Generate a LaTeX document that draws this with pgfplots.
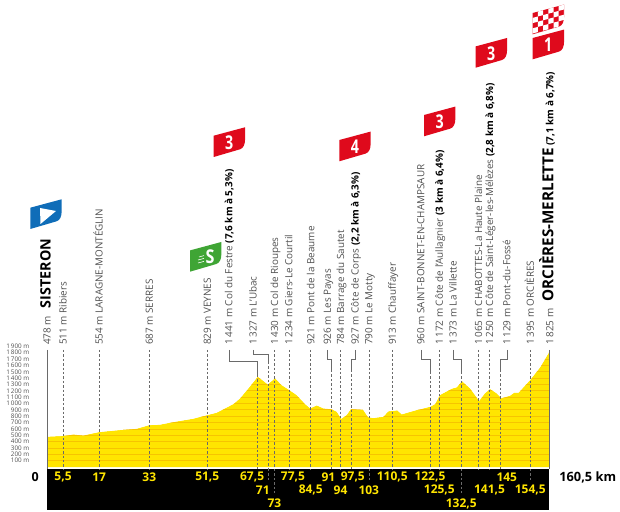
\documentclass[border=0pt]{standalone}
\usepackage{fontspec}
\setmainfont{Open Sans}
\usepackage{pgfplots}
\usepackage{pgfplotstable}
\pgfplotsset{compat=1.18}
\definecolor{prof}{HTML}{FFE500}
\definecolor{profline}{HTML}{F6C400}
\definecolor{lbl}{HTML}{505050}
\definecolor{dashc}{HTML}{6A6A6A}
\definecolor{tfred}{HTML}{DF0A1C}
\definecolor{tfgreen}{HTML}{3FA535}
\definecolor{tfblue}{HTML}{0F6DB8}
\pgfplotstableread{
km m
0.4 478
5.5 490
8.8 514
12 498
17 551
23.7 583
29 604
33 660
36.4 667
40.7 709
47 761
51.1 814
54.5 856
59.8 992
61.9 1081
64.6 1239
67.6 1425
70.8 1302
73.1 1400
75.2 1291
77.6 1215
80 1134
82.7 992
84.3 924
86.4 971
88.5 924
91.1 912
92.8 871
94.2 760
95.9 819
97.3 915
101.2 903
102.8 785
104.4 772
107.6 792
109.2 877
112.1 893
113.5 830
118.3 898
122.6 950
124.1 992
125.7 1135
129.4 1233
131 1255
132.7 1355
135.3 1239
138.2 1044
140 1161
141.7 1230
143.8 1161
145.3 1085
148 1123
149.3 1170
150.7 1170
154.5 1375
157.6 1570
160.5 1810
}\prof
\newcommand\thou{\hspace{0.18em}}
\newcommand\lab[2]{\node[xshift=3.5pt,rotate=90,anchor=base west,text=lbl,inner sep=0pt,font=\fontsize{9.9}{11}\selectfont] at (axis cs:#1,1921) {#2};}
\newcommand\dashln[3]{\addplot[dashc,line width=0.6pt,dash pattern=on 2.4pt off 2pt] coordinates {(#1,#2)(#1,#3)};}
\newcommand\brk[4]{% text km, target km, horiz m, solid end m
\addplot[dashc,line width=0.6pt] coordinates {(#1,1843)(#1,#3)(#2,#3)(#2,#4)};
\dashln{#2}{#4}{-32}}
\newcommand\kmlab[3]{\node[text=prof,inner sep=0pt,font=\fontsize{12}{13}\bfseries\selectfont] at (axis cs:#1,#2) {#3};}
\newcommand\ylab[2]{\node[anchor=east,text=lbl,inner sep=0pt,font=\fontsize{6.3}{7}\selectfont] at (axis cs:-5.2,#1) {#2};}
\newcommand\badge[4]{% colour, BL x, BL y, text
\fill[#1] (#2,#3) -- ++(26.3,-7.7) .. controls ++(3.5,-1) and ++(0,4) .. ++(5,-9.3) -- ++(0,-12.7) -- ++(-31.3,8.4) -- cycle;
\node[text=white,inner sep=0pt,font=\fontsize{19}{20}\bfseries\selectfont,xscale=0.75] at (#2+15.6,#3-14.3) {#4};}
\begin{document}
\begin{tikzpicture}
\path[use as bounding box] (0,0) rectangle (620pt,511pt);
\begin{axis}[
  at={(0,0)},anchor=south west,
  scale only axis,width=620pt,height=511pt,
  hide axis,clip=false,
  xmin=-14.605,xmax=183.1,
  ymin=-692.9,ymax=7354.3]
\addplot[fill=prof,draw=none] table[x=km,y=m] {\prof} \closedcycle;
\pgfplotsinvokeforeach{100,200,...,1800}{\addplot[profline,line width=0.8pt] coordinates {(0.4,#1)(160.5,#1)};}
\addplot[fill=white,draw=none] table[x=km,y=m] {\prof} -- (axis cs:160.5,2000) -- (axis cs:0.4,2000) -- cycle;
% black band
\addplot[fill=black,draw=none] coordinates {(0.4,-32)(160.5,-32)(160.5,-677)(0.4,-677)} -- cycle;
% axis line and end line
\addplot[dashc,line width=1.1pt] coordinates {(0.4,1843)(0.4,-32)};
\addplot[dashc,line width=0.6pt] coordinates {(160.5,1843)(160.5,-32)};
% y labels
\ylab{1900}{1\thou 900 m}\ylab{1800}{1\thou 800 m}\ylab{1700}{1\thou 700 m}\ylab{1600}{1\thou 600 m}\ylab{1500}{1\thou 500 m}
\ylab{1400}{1\thou 400 m}\ylab{1300}{1\thou 300 m}\ylab{1200}{1\thou 200 m}\ylab{1100}{1\thou 100 m}\ylab{1000}{1\thou 000 m}
\ylab{900}{900 m}\ylab{800}{800 m}\ylab{700}{700 m}\ylab{600}{600 m}\ylab{500}{500 m}
\ylab{400}{400 m}\ylab{300}{300 m}\ylab{200}{200 m}\ylab{100}{100 m}
% straight leaders
\dashln{5.5}{1843}{-32}\dashln{17}{1843}{-32}\dashln{33}{1843}{-32}\dashln{51.5}{1843}{-32}
\dashln{73}{1843}{-32}\dashln{77.5}{1843}{-32}\dashln{84.5}{1843}{-32}\dashln{94}{1843}{-32}
\dashln{103}{1843}{-32}\dashln{110.5}{1843}{-32}\dashln{125.5}{1843}{-32}\dashln{138}{1843}{-32}
\dashln{141.5}{1843}{-32}\dashln{154.5}{1843}{-32}
% bracket leaders
\brk{58.4}{67.5}{1669}{1449}
\brk{66.1}{71}{1780}{1654}
\brk{89.8}{91}{1701}{1528}
\brk{98.6}{97.5}{1701}{1528}
\brk{119.6}{122.5}{1701}{1496}
\brk{129.9}{132.5}{1701}{1496}
\brk{147}{145}{1701}{1528}
% drop lines in the black band
\addplot[dashc,line width=0.6pt,dash pattern=on 2.4pt off 2pt] coordinates {(71,-32)(71,-215)};
\addplot[dashc,line width=0.6pt,dash pattern=on 2.4pt off 2pt] coordinates {(73,-32)(73,-410)};
\addplot[dashc,line width=0.6pt,dash pattern=on 2.4pt off 2pt] coordinates {(103,-32)(103,-215)};
\addplot[dashc,line width=0.6pt,dash pattern=on 2.4pt off 2pt] coordinates {(132.5,-32)(132.5,-410)};
\addplot[dashc,line width=0.6pt,dash pattern=on 2.4pt off 2pt] coordinates {(154.5,-32)(154.5,-215)};
% place labels
\lab{0.4}{478 m\hspace{8pt}{\color{black}\fontsize{14.3}{15}\bfseries\selectfont SISTERON}}
\lab{5.5}{511 m Ribiers}
\lab{17}{554 m LARAGNE-MONTÉGLIN}
\lab{33}{687 m SERRES}
\lab{51.5}{829 m VEYNES}
\lab{58.4}{1\thou 441 m Col du Festre {\color{black}\bfseries (7,6 km à 5,3\%)}}
\lab{66.1}{1\thou 327 m L'Ubac}
\lab{73}{1\thou 430 m Col de Rioupes}
\lab{77.5}{1\thou 234 m Giers-Le Courtil}
\lab{84.5}{921 m Pont de la Beaume}
\lab{89.8}{926 m Les Payas}
\lab{94}{784 m Barrage du Sautet}
\lab{98.6}{927 m Côte de Corps {\color{black}\bfseries (2,2 km à 6,3\%)}}
\lab{103}{790 m Le Motty}
\lab{110.5}{913 m Chauffayer}
\lab{119.6}{960 m SAINT-BONNET-EN-CHAMPSAUR}
\lab{125.5}{1\thou 172 m Côte de l'Aullagnier {\color{black}\bfseries (3 km à 6,4\%)}}
\lab{129.9}{1\thou 373 m La Villette}
\lab{138}{1\thou 065 m CHABOTTES-La Haute Plaine}
\lab{141.5}{1\thou 250 m Côte de Saint-Léger-les-Mélèzes {\color{black}\bfseries (2,8 km à 6,8\%)}}
\lab{147}{1\thou 129 m Pont-du-Fossé}
\lab{154.5}{1\thou 395 m ORCIÈRES}
\lab{160.7}{1\thou 825 m\hspace{7pt}{\color{black}\fontsize{15.2}{16}\bfseries\selectfont ORCIÈRES-MERLETTE} {\color{black}\bfseries (7,1 km à 6,7\%)}}
% km labels in band
\kmlab{5.5}{-158}{5,5}\kmlab{17}{-158}{17}\kmlab{33}{-158}{33}\kmlab{51.5}{-158}{51,5}
\kmlab{65.8}{-158}{67,5}\kmlab{78.8}{-158}{77,5}\kmlab{90.1}{-158}{91}\kmlab{97.9}{-158}{97,5}
\kmlab{110.5}{-158}{110,5}\kmlab{122.5}{-158}{122,5}\kmlab{147}{-158}{145}
\kmlab{69.2}{-368}{71}\kmlab{84.5}{-368}{84,5}\kmlab{94}{-368}{94}\kmlab{103}{-368}{103}
\kmlab{125.5}{-368}{125,5}\kmlab{141.5}{-368}{141,5}\kmlab{154.5}{-368}{154,5}
\kmlab{72.9}{-578}{73}\kmlab{132.5}{-578}{132,5}
\node[text=black,inner sep=0pt,font=\fontsize{12.5}{13}\bfseries\selectfont] at (axis cs:-3.4,-158) {0};
\node[text=black,inner sep=0pt,font=\fontsize{12.8}{13}\bfseries\selectfont] at (axis cs:172.8,-158) {160,5 km};
\end{axis}
\begin{scope}[x=1pt,y=-1pt,yshift=511pt]
\badge{tfred}{213.7}{157}{3}
\badge{tfred}{339.3}{161.3}{4}
\badge{tfred}{424}{136.3}{3}
\badge{tfred}{475.7}{67.7}{3}
\badge{tfred}{532.7}{59.3}{1}
% start flag
\badge{tfblue}{30.3}{229}{}
\fill[white] (40,208) -- (40.5,224) -- (56,211) -- cycle;
% sprint
\badge{tfgreen}{190}{271.7}{}
\node[text=white,inner sep=0pt,font=\fontsize{19}{20}\bfseries\selectfont,xscale=0.85] at (210,256.5) {S};
\draw[white,line width=0.6pt] (198,263)--(204,261.4) (198,260)--(204,258.4) (199,257)--(204,255.6);
% finish flag
\begin{scope}
\clip (532.7,34.3) -- ++(26.3,-7.7) .. controls ++(3.5,-1) and ++(0,4) .. ++(5,-9.3) -- ++(0,-12.7) -- ++(-31.3,8.4) -- cycle;
\fill[tfred] (525,0) rectangle (570,40);
\foreach \i in {0,...,6}{\foreach \j in {0,...,4}{
  \pgfmathparse{int(mod(\i+\j,2))}
  \ifnum\pgfmathresult=0
    \fill[white] ({532.7+\i*5.2},{34.3-\i*1.4-\j*5.2-0.8}) -- ++(5.2,-1.4) -- ++(0,-5.2) -- ++(-5.2,1.4) -- cycle;
  \fi}}
\end{scope}
\end{scope}
\end{tikzpicture}
\end{document}
